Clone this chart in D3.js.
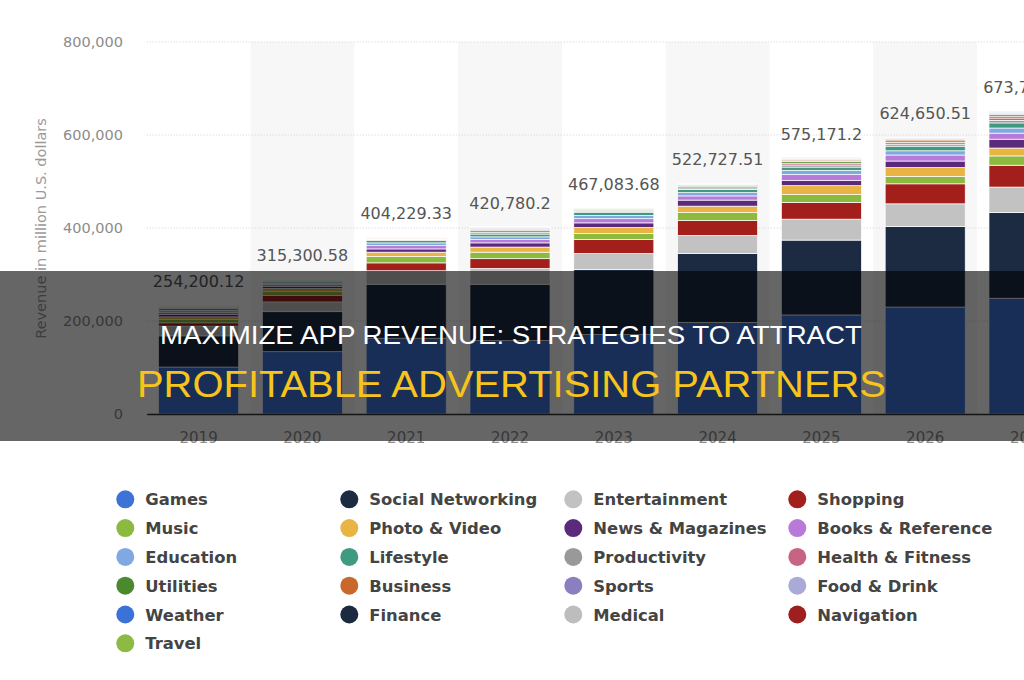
<!DOCTYPE html>
<html>
<head>
<meta charset="utf-8">
<script src="https://cdn.jsdelivr.net/npm/d3@7"></script>
<style>
  html, body { margin: 0; padding: 0; background: #fff; }
  svg { display: block; }
</style>
</head>
<body>
<svg id="chart" width="1024" height="680"></svg>
<script>
// ---- Data (million U.S. dollars, in thousands) ----
const years = ["2019","2020","2021","2022","2023","2024","2025","2026","2027"];
const totalLabels = ["254,200.12","315,300.58","404,229.33","420,780.2","467,083.68","522,727.51","575,171.2","624,650.51","673,749.14"];
const yTicks = [0, 200000, 400000, 600000, 800000];

const seriesNames = ["Games","Social Networking","Entertainment","Shopping","Music","Photo & Video","News & Magazines","Books & Reference","Education","Lifestyle","Productivity","Health & Fitness","Utilities","Business","Sports","Food & Drink","Weather","Finance","Medical","Navigation","Travel"];
const seriesColors = ["#3d73d6","#1c2b41","#c2c2c2","#a31f1c","#8cba3e","#e9b443","#5a2a7c","#b87ad8","#80a8e2","#3e9a80","#999999","#c86483","#4b8a2c","#c8692b","#8b7fc0","#a9aad8","#3b72d8","#1b2a3e","#bdbdbd","#9e1f1f","#8dba44"];

const games         = [101, 134, 163, 158, 171, 197, 213, 230, 249];
const social        = [ 67,  86, 116, 121, 140, 148, 161, 173, 184];
const entertainment = [ 21,  21,  29,  34,  34,  39,  45,  49,  55];
const shopping      = [  7,  14,  17,  21,  30,  32,  36,  43,  47];
const music         = [  7,   8,  14,  14,  13,  17,  17,  16,  20];
const photoVideo    = [  6,   7,   9,  11,  13,  14,  19,  19,  17];
const news          = [  5,   4,   7,   9,  10,  13,  11,  14,  19];
const books         = [  5,   4,   7,   7,   9,   9,  13,  13,  13];
const education     = [  4,   3,   6,   6,   7,   7,   9,   9,  11];
const lifestyle     = [  4,   3,   5,   6,   7,   7,   7,  10,  11];
const productivity  = [1.8, 1.8, 1.8, 4.0, 2.2, 3.2, 4.5, 4.3, 5.5];
const health        = [1.5, 1.5, 1.5, 3.5, 2.0, 3.0, 4.0, 4.0, 5.0];
const utilities     = [1.2, 1.2, 1.2, 2.5, 1.5, 2.2, 3.5, 3.2, 4.0];
const business      = [1.0, 1.0, 1.0, 2.0, 1.2, 1.8, 3.0, 2.8, 3.5];
const sports        = [0.5, 0.5, 0.5, 1.5, 0.8, 1.2, 2.0, 2.0, 2.7];
const food          = [0.4, 0.4, 0.4, 1.0, 0.5, 0.8, 1.5, 1.4, 2.0];
const weather       = [0.2, 0.2, 0.2, 0.5, 0.3, 0.3, 0.5, 0.5, 0.8];
const finance       = [0.1, 0.1, 0.1, 0.3, 0.1, 0.2, 0.3, 0.3, 0.5];
const medical       = [0.1, 0.1, 0.1, 0.2, 0.1, 0.1, 0.2, 0.2, 0.3];
const navigation    = [0.1, 0.1, 0.1, 0.2, 0.1, 0.1, 0.2, 0.1, 0.2];
const travel        = [0.1, 0.1, 0.1, 0.3, 0.2, 0.2, 0.3, 0.2, 0.5];

const seriesValues = [games, social, entertainment, shopping, music, photoVideo, news, books, education, lifestyle,
  productivity, health, utilities, business, sports, food, weather, finance, medical, navigation, travel];

// ---- Build table (thousands -> million USD) ----
const table = years.map((y, i) => {
  const row = { year: y };
  seriesNames.forEach((n, s) => { row[n] = seriesValues[s][i] * 1000; });
  return row;
});

const svg = d3.select("#chart");
const plotLeft = 146.7, plotTop = 42, plotBottom = 414;
const step = 103.8;

const x = d3.scaleBand().domain(years)
  .range([plotLeft, plotLeft + step * years.length])
  .paddingInner(0.229).paddingOuter(0.1145);
const y = d3.scaleLinear().domain([0, 800000]).range([plotBottom, plotTop]);
const color = d3.scaleOrdinal().domain(seriesNames).range(seriesColors);

// alternating column bands
svg.append("g").selectAll("rect").data(years.filter((d, i) => i % 2 === 1)).join("rect")
  .attr("x", d => x(d) - x.step() * x.paddingInner() / 2)
  .attr("width", x.step())
  .attr("y", plotTop).attr("height", plotBottom - plotTop)
  .attr("fill", "#f7f7f7");

// gridlines
svg.append("g").selectAll("line").data(yTicks.filter(d => d > 0)).join("line")
  .attr("x1", plotLeft).attr("x2", 1024)
  .attr("y1", d => y(d)).attr("y2", d => y(d))
  .attr("stroke", "#cfcfcf").attr("stroke-width", 1).attr("stroke-dasharray", "1,2");

// y axis labels
const yAxis = d3.axisLeft(y).tickValues(yTicks).tickFormat(d3.format(",")).tickSize(0).tickPadding(0);
const yg = svg.append("g").attr("transform", "translate(123,0)").call(yAxis);
yg.select(".domain").remove();
yg.selectAll("text").attr("font-family", "DejaVu Sans, sans-serif").attr("font-size", 14.5).attr("fill", "#8c8c8c");

// y axis title
svg.append("text")
  .attr("transform", "translate(46,228.5) rotate(-90)")
  .attr("text-anchor", "middle")
  .attr("font-family", "DejaVu Sans, sans-serif").attr("font-size", 14.5).attr("fill", "#9a9a9a")
  .text("Revenue in million U.S. dollars");

// stacked bars
const stack = d3.stack().keys(seriesNames);
const stacked = stack(table);
svg.append("g").selectAll("g").data(stacked).join("g")
  .attr("fill", d => color(d.key))
  .selectAll("rect").data(d => d).join("rect")
  .attr("x", d => x(d.data.year))
  .attr("width", x.bandwidth())
  .attr("y", d => y(d[1]))
  .attr("height", d => Math.max(0, y(d[0]) - y(d[1])))
  .attr("stroke", "#fff").attr("stroke-width", 0.7);

// total labels
svg.append("g").selectAll("text").data(years).join("text")
  .attr("x", d => x(d) + x.bandwidth() / 2)
  .attr("y", (d, i) => y(d3.sum(seriesValues, s => s[i]) * 1000) - 18)
  .attr("text-anchor", "middle")
  .attr("font-family", "DejaVu Sans, sans-serif").attr("font-size", 16).attr("fill", "#555")
  .text((d, i) => totalLabels[i]);

// x axis
const xAxis = d3.axisBottom(x).tickSize(0).tickPadding(18);
const xg = svg.append("g").attr("transform", `translate(0,${plotBottom})`).call(xAxis);
xg.select(".domain").attr("stroke", "#333").attr("stroke-width", 1.5);
xg.selectAll("text").attr("font-family", "DejaVu Sans, sans-serif").attr("font-size", 15).attr("fill", "#8c8c8c");

// dark overlay band with headline
svg.append("rect").attr("x", 0).attr("y", 271).attr("width", 1024).attr("height", 170)
  .attr("fill", "rgba(0,0,0,0.6)");
svg.append("text").attr("x", 511).attr("y", 343.5).attr("text-anchor", "middle")
  .attr("font-family", "'Liberation Sans Narrow', 'Liberation Sans', sans-serif")
  .attr("font-size", 26.5).attr("fill", "#ffffff")
  .attr("textLength", 702).attr("lengthAdjust", "spacingAndGlyphs")
  .text("MAXIMIZE APP REVENUE: STRATEGIES TO ATTRACT");
svg.append("text").attr("x", 511.5).attr("y", 396.7).attr("text-anchor", "middle")
  .attr("font-family", "'Liberation Sans Narrow', 'Liberation Sans', sans-serif")
  .attr("font-size", 37.5).attr("fill", "#f7c41c")
  .attr("textLength", 749).attr("lengthAdjust", "spacingAndGlyphs")
  .text("PROFITABLE ADVERTISING PARTNERS");

// legend (row-major, 4 columns)
const legendColX = [125.3, 349.3, 573.3, 797.3];
const legendTop = 499.3, legendRow = 28.8;
const lg = svg.append("g").selectAll("g").data(seriesNames).join("g")
  .attr("transform", (d, i) => `translate(${legendColX[i % 4]},${legendTop + Math.floor(i / 4) * legendRow})`);
lg.append("circle").attr("r", 9).attr("fill", d => color(d));
lg.append("text").attr("x", 20).attr("y", 6)
  .attr("font-family", "DejaVu Sans, sans-serif").attr("font-weight", "bold").attr("font-size", 16.4)
  .attr("fill", "#444").text(d => d);
</script>
</body>
</html>
